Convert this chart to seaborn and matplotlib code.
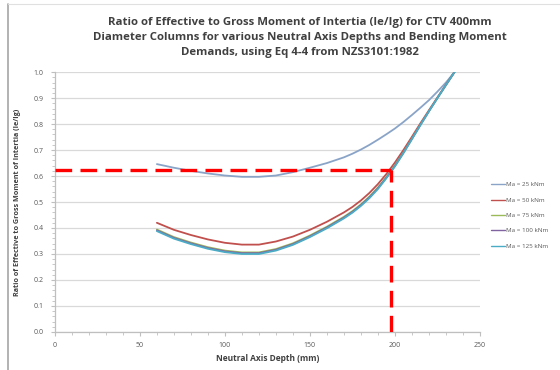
import matplotlib
matplotlib.use("Agg")
import matplotlib.pyplot as plt
from matplotlib.lines import Line2D
from matplotlib.ticker import MultipleLocator, FormatStrFormatter
import seaborn as sns
import pandas as pd

depth = [60, 70, 80, 90, 100, 110, 120, 130, 140, 150, 160, 170, 175, 180, 185,
         190, 195, 200, 205, 210, 215, 220, 225, 230, 235]
ma25 = [0.646, 0.632, 0.620, 0.610, 0.602, 0.597, 0.597, 0.602, 0.615, 0.632, 0.650, 0.672, 0.686,
        0.702, 0.720, 0.740, 0.761, 0.783, 0.808, 0.835, 0.863, 0.892, 0.925, 0.960, 1.000]
ma50 = [0.420, 0.393, 0.373, 0.356, 0.343, 0.336, 0.336, 0.348, 0.367, 0.393, 0.424, 0.460, 0.481,
        0.506, 0.535, 0.569, 0.608, 0.652, 0.700, 0.751, 0.803, 0.853, 0.9025, 0.9515, 1.000]
ma75 = [0.394, 0.365, 0.344, 0.326, 0.313, 0.306, 0.306, 0.319, 0.341, 0.371, 0.405, 0.443, 0.465,
        0.491, 0.521, 0.556, 0.596, 0.641, 0.691, 0.744, 0.798, 0.850, 0.9005, 0.9505, 1.000]
ma100 = [0.391, 0.362, 0.341, 0.323, 0.310, 0.303, 0.303, 0.316, 0.338, 0.368, 0.402, 0.440, 0.462,
         0.488, 0.518, 0.553, 0.594, 0.639, 0.6895, 0.743, 0.797, 0.8495, 0.9005, 0.9505, 1.000]
ma125 = [0.388, 0.359, 0.338, 0.320, 0.307, 0.300, 0.300, 0.313, 0.335, 0.365, 0.399, 0.437, 0.459,
         0.485, 0.515, 0.550, 0.592, 0.637, 0.688, 0.742, 0.796, 0.849, 0.900, 0.9505, 1.000]
series_names = ["Ma = 25 kNm", "Ma = 50 kNm", "Ma = 75 kNm", "Ma = 100 kNm", "Ma = 125 kNm"]
colors = ["#8aa4c8", "#c0504d", "#9bbb59", "#8064a2", "#4bacc6"]
target_depth = 197.5
target_ratio = 0.623

rows = []
for name, vals in zip(series_names, [ma25, ma50, ma75, ma100, ma125]):
    for d, v in zip(depth, vals):
        rows.append({"depth": d, "ratio": v, "series": name})
df = pd.DataFrame(rows)

sns.set_theme(style="white")
plt.rcParams['font.family'] = ['Open Sans', 'DejaVu Sans']

fig = plt.figure(figsize=(5.6, 3.7), dpi=100)
ax = fig.add_axes([0.098, 0.103, 0.759, 0.702])

sns.lineplot(data=df, x="depth", y="ratio", hue="series", palette=colors,
             hue_order=series_names, linewidth=1.3, ax=ax, legend=False, sort=True)

ax.plot([0, target_depth], [target_ratio, target_ratio], color="#ff0000", lw=2.4,
        dashes=(5, 2.5), zorder=5)
ax.plot([target_depth, target_depth], [0, target_ratio], color="#ff0000", lw=2.4,
        dashes=(5, 2.5), zorder=5)

ax.set_xlim(0, 250)
ax.set_ylim(0, 1.0)
ax.xaxis.set_major_locator(MultipleLocator(50))
ax.xaxis.set_minor_locator(MultipleLocator(10))
ax.yaxis.set_major_locator(MultipleLocator(0.1))
ax.yaxis.set_minor_locator(MultipleLocator(0.02))
ax.yaxis.set_major_formatter(FormatStrFormatter('%.1f'))
ax.grid(axis="y", which="major", color="#d9d9d9", lw=0.9)
ax.set_axisbelow(True)
for s in ["top", "right"]:
    ax.spines[s].set_visible(False)
for s in ["left", "bottom"]:
    ax.spines[s].set_color("#bfbfbf")
    ax.spines[s].set_linewidth(0.9)
ax.tick_params(axis="both", which="both", direction="out", color="#bfbfbf",
               labelsize=5, labelcolor="#595959", pad=4)
ax.tick_params(axis="both", which="major", length=3, width=0.8, bottom=True, left=True)
ax.tick_params(axis="both", which="minor", length=2, width=0.6, bottom=True, left=True)
ax.tick_params(axis="y", which="major", pad=5)

ax.set_xlabel("Neutral Axis Depth (mm)", fontsize=6, fontweight="bold", color="#404040", labelpad=4)
ax.set_ylabel("Ratio of Effective to Gross Moment of Intertia (Ie/Ig)", fontsize=5.2,
              fontweight="bold", color="#404040", labelpad=9)

fig.text(0.535, 0.955, "Ratio of Effective to Gross Moment of Intertia (Ie/Ig) for CTV 400mm\n"
         "Diameter Columns for various Neutral Axis Depths and Bending Moment\n"
         "Demands, using Eq 4-4 from NZS3101:1982",
         ha="center", va="top", fontsize=8.2, fontweight="bold", color="#404040", linespacing=1.5)

handles = [Line2D([0], [0], color=c, lw=1) for c in colors]
leg = fig.legend(handles, series_names, loc="upper left", bbox_to_anchor=(0.872, 0.515),
                 frameon=False, fontsize=4.5, handlelength=2.2, handletextpad=0.3,
                 labelspacing=1.6, borderaxespad=0)
for t in leg.get_texts():
    t.set_color("#595959")

fig.add_artist(Line2D([0.014, 0.014], [0, 0.99], transform=fig.transFigure, color="#a6a6a6", lw=1.2))
fig.add_artist(Line2D([0.014, 1.0], [0.99, 0.99], transform=fig.transFigure, color="#e0e0e0", lw=0.8))

fig.savefig("out.png", dpi=100)
